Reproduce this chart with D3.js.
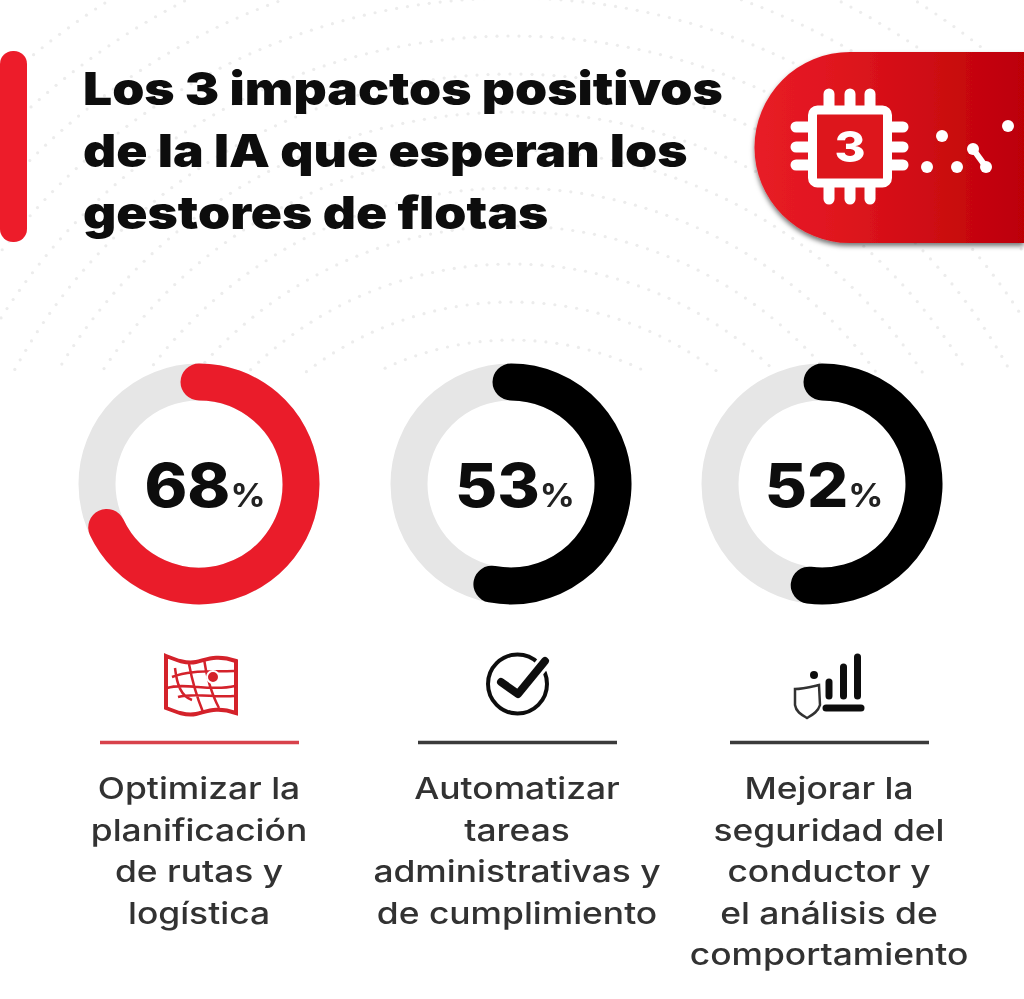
<!DOCTYPE html>
<html>
<head>
<meta charset="utf-8">
<script src="https://cdn.jsdelivr.net/npm/d3@7"></script>
<style>
  html, body { margin: 0; padding: 0; background: #fff; }
  svg { display: block; }
  text { font-family: Inter, "Noto Sans", sans-serif; }
</style>
</head>
<body>
<div id="container"></div>
<script>
const titleLines = ["Los 3 impactos positivos", "de la IA que esperan los", "gestores de flotas"];
const values = [68, 53, 52];
const arcColors = ["#ea1c2b", "#000000", "#000000"];
const ruleColors = ["#d8424c", "#3a3a3a", "#3a3a3a"];
const labels = [
  ["Optimizar la", "planificación", "de rutas y", "logística"],
  ["Automatizar", "tareas", "administrativas y", "de cumplimiento"],
  ["Mejorar la", "seguridad del", "conductor y", "el análisis de", "comportamiento"],
];

const width = 1024, height = 999;
const root = d3.select("#container").append("svg")
  .attr("width", width)
  .attr("height", height);

const defs = root.append("defs");
defs.append("filter").attr("id", "soft")
  .attr("x", 0).attr("y", 0).attr("width", 1).attr("height", 1)
  .append("feGaussianBlur").attr("stdDeviation", 0.6);
const grad = defs.append("linearGradient").attr("id", "badge");
grad.append("stop").attr("offset", "0").attr("stop-color", "#e81c26");
grad.append("stop").attr("offset", "0.3").attr("stop-color", "#e0161f");
grad.append("stop").attr("offset", "1").attr("stop-color", "#bc0006");
defs.append("filter").attr("id", "shadow")
  .attr("x", "-10%").attr("y", "-10%").attr("width", "120%").attr("height", "125%")
  .append("feDropShadow")
  .attr("dx", 0).attr("dy", 3).attr("stdDeviation", 2.5)
  .attr("flood-color", "#000").attr("flood-opacity", 0.55);

const svg = root.append("g").attr("filter", "url(#soft)");
svg.append("rect").attr("width", width).attr("height", height).attr("fill", "#fff");

// faint dotted domes behind everything
const dots = svg.append("g").attr("fill", "#ececec");
d3.range(300, 760, 38).forEach((r) => {
  d3.range(-1.5, 1.5, 11 / r).forEach((a) => {
    const x = 512 + r * Math.sin(a), y = 640 - r * Math.cos(a);
    if (y < 372 && x > 0 && x < width) {
      dots.append("circle").attr("cx", x).attr("cy", y).attr("r", 1.6);
    }
  });
});

// left accent bar
svg.append("rect")
  .attr("x", 0).attr("y", 51)
  .attr("width", 27).attr("height", 191)
  .attr("rx", 13)
  .attr("fill", "#ed1c2a");

// title, stretched a bit since the original face is wider than Inter
svg.append("g").selectAll("text")
  .data(titleLines)
  .enter()
  .append("text")
  .attr("transform", (d, i) => "translate(83," + (105 + i * 62) + ") scale(1.12,1)")
  .attr("font-size", 46)
  .attr("font-weight", 900)
  .attr("fill", "#0a0a0a")
  .text((d) => d);

// badge
const badgePath = d3.path();
badgePath.moveTo(1024, 52);
badgePath.lineTo(850, 52);
badgePath.arc(850, 147.5, 95.5, -Math.PI / 2, Math.PI / 2, true);
badgePath.lineTo(1024, 243);
badgePath.closePath();
svg.append("path")
  .attr("d", badgePath.toString())
  .attr("fill", "url(#badge)")
  .attr("filter", "url(#shadow)");

// chip icon
const chip = svg.append("g").attr("stroke", "#fff").attr("stroke-linecap", "round").attr("fill", "none");
[829, 850, 870].forEach((x) => {
  chip.append("line").attr("x1", x).attr("x2", x).attr("y1", 94).attr("y2", 199).attr("stroke-width", 11);
});
[127, 147, 165].forEach((y) => {
  chip.append("line").attr("y1", y).attr("y2", y).attr("x1", 796).attr("x2", 903).attr("stroke-width", 11);
});
chip.append("rect")
  .attr("x", 812.5).attr("y", 110)
  .attr("width", 75).attr("height", 73)
  .attr("rx", 5)
  .attr("fill", "#dd121c")
  .attr("stroke-width", 9);
svg.append("text")
  .attr("transform", "translate(850,162) scale(1.1,1)")
  .attr("text-anchor", "middle")
  .attr("font-size", 43)
  .attr("font-weight", 800)
  .attr("fill", "#fff")
  .text("3");
[[942, 136], [927, 167], [957, 167], [1008, 126], [973, 149], [986, 167]].forEach((c) => {
  svg.append("circle").attr("cx", c[0]).attr("cy", c[1]).attr("r", 6).attr("fill", "#fff");
});
svg.append("line")
  .attr("x1", 973).attr("y1", 149).attr("x2", 986).attr("y2", 167)
  .attr("stroke", "#fff").attr("stroke-width", 6);

// donuts
const centers = [199, 511, 822];
const pctShift = [6, 4, 2];
const angle = d3.scaleLinear().domain([0, 100]).range([0, 2 * Math.PI]);
const ringRadius = 102, ringWidth = 37;

function ringArc(v) {
  // open path, a closed one would lose the round caps
  const p = d3.path();
  p.arc(0, 0, ringRadius, -Math.PI / 2, -Math.PI / 2 + angle(v));
  return p.toString();
}

const donuts = svg.selectAll("g.donut")
  .data(values)
  .enter()
  .append("g")
  .attr("class", "donut")
  .attr("transform", (d, i) => "translate(" + centers[i] + ",484)");

donuts.append("circle")
  .attr("r", ringRadius)
  .attr("fill", "none")
  .attr("stroke", "#e6e6e6")
  .attr("stroke-width", ringWidth);

donuts.append("path")
  .attr("d", (d) => ringArc(d))
  .attr("fill", "none")
  .attr("stroke", (d, i) => arcColors[i])
  .attr("stroke-width", ringWidth)
  .attr("stroke-linecap", "round");

const pct = donuts.append("text")
  .attr("transform", (d, i) => "translate(" + pctShift[i] + ",23) scale(1.08,1)")
  .attr("text-anchor", "middle")
  .attr("fill", "#0a0a0a");
pct.append("tspan")
  .attr("font-size", 60)
  .attr("font-weight", 800)
  .text((d) => d);
pct.append("tspan")
  .attr("font-size", 32)
  .attr("font-weight", 700)
  .attr("fill", "#222")
  .text("%");

// rules under the icons
const ruleStarts = [100, 418, 730];
svg.selectAll("line.rule")
  .data(ruleStarts)
  .enter()
  .append("line")
  .attr("class", "rule")
  .attr("x1", (d) => d)
  .attr("x2", (d) => d + 199)
  .attr("y1", 742.5)
  .attr("y2", 742.5)
  .attr("stroke", (d, i) => ruleColors[i])
  .attr("stroke-width", 3.5);

// map icon
const mapIcon = svg.append("g")
  .attr("fill", "none")
  .attr("stroke", "#d4202c")
  .attr("stroke-width", 2.5);
mapIcon.append("path")
  .attr("d", "M166,656 C176,660 186,664 196,662 C206,660 216,654 236,661 L236,713 C216,706 206,712 196,714 C186,716 176,712 166,708 Z")
  .attr("stroke-width", 4);
mapIcon.append("path").attr("d", "M175,668 C177,685 181,696 192,700 M189,664 C192,680 196,695 203,712 M204,659 C206,675 212,695 219,708 M167,688 C185,682 210,692 235,686 M172,677 C190,670 210,672 234,671 M178,697 C195,692 215,698 234,696");
svg.append("circle").attr("cx", 213).attr("cy", 677).attr("r", 6).attr("fill", "#d4202c")
  .attr("stroke", "#fff").attr("stroke-width", 2);

// check icon
svg.append("circle")
  .attr("cx", 517.5).attr("cy", 684).attr("r", 29.5)
  .attr("fill", "none").attr("stroke", "#111").attr("stroke-width", 4);
svg.append("path")
  .attr("d", "M501,682 L518,694 L545,661")
  .attr("fill", "none").attr("stroke", "#fff").attr("stroke-width", 14);
svg.append("path")
  .attr("d", "M501,682 L518,694 L545,661")
  .attr("fill", "none").attr("stroke", "#111").attr("stroke-width", 8)
  .attr("stroke-linecap", "round").attr("stroke-linejoin", "round");

// shield + bars icon
const shield = svg.append("g").attr("stroke", "#111").attr("stroke-linecap", "round").attr("fill", "none");
shield.append("path")
  .attr("d", "M795,689 C802,689 810,687 819,685 L820,705 C818,712 812,715 807,718 C802,715 796,712 795,705 Z")
  .attr("stroke", "#333").attr("stroke-width", 2.5);
svg.append("circle").attr("cx", 814).attr("cy", 675).attr("r", 4).attr("fill", "#111");
[[829, 682], [843.5, 667], [857.5, 657]].forEach((b) => {
  shield.append("line").attr("x1", b[0]).attr("x2", b[0]).attr("y1", b[1]).attr("y2", 696).attr("stroke-width", 7);
});
shield.append("line").attr("x1", 826).attr("x2", 861).attr("y1", 708).attr("y2", 708).attr("stroke-width", 7);

// labels
const labelCenters = [199, 517, 829];
const labelGroups = svg.selectAll("g.label")
  .data(labels)
  .enter()
  .append("g")
  .attr("class", "label")
  .attr("transform", (d, i) => "translate(" + labelCenters[i] + ",0)");
labelGroups.selectAll("text")
  .data((d) => d)
  .enter()
  .append("text")
  .attr("transform", (d, i) => "translate(0," + (799 + i * 41.5) + ") scale(1.18,1)")
  .attr("text-anchor", "middle")
  .attr("font-size", 30)
  .attr("font-weight", 500)
  .attr("fill", "#333")
  .text((d) => d);
</script>
</body>
</html>
